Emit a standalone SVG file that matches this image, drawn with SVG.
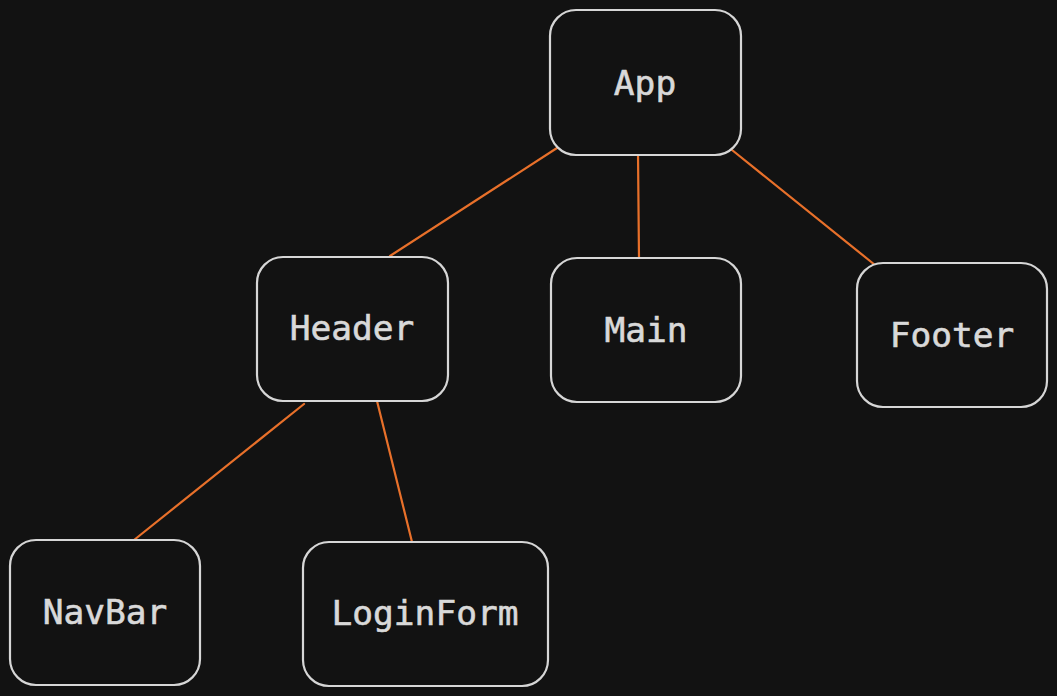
<svg xmlns="http://www.w3.org/2000/svg" width="1057" height="696" viewBox="0 0 1057 696">
<style>
.box{fill:#121212;stroke:#d6d6d6;stroke-width:2.2}
.lbl{font-family:"DejaVu Sans Mono","Liberation Mono",monospace;font-size:34.5px;fill:#d9d9d9;stroke:#d9d9d9;stroke-width:0.6;text-anchor:middle;dominant-baseline:central}
.edge{stroke:#e8702a;stroke-width:2.2;fill:none;stroke-linecap:round}
</style>
<rect width="1057" height="696" fill="#121212"/>
<g id="connectors">
<path class="edge" d="M557 148 L390 256"/>
<path class="edge" d="M638 153 L639 258"/>
<path class="edge" d="M732 150 L875 265"/>
<path class="edge" d="M304 404 L134 540"/>
<path class="edge" d="M377 401 L412 542"/>
</g>
<g id="app"><rect class="box" x="550" y="10" width="191" height="145" rx="26"/><text class="lbl" x="645" y="83">App</text></g>
<g id="header"><rect class="box" x="257" y="257" width="191" height="144" rx="26"/><text class="lbl" x="352" y="328">Header</text></g>
<g id="main"><rect class="box" x="551" y="258" width="190" height="144" rx="26"/><text class="lbl" x="646" y="330">Main</text></g>
<g id="footer"><rect class="box" x="857" y="263" width="190" height="144" rx="26"/><text class="lbl" x="952" y="335">Footer</text></g>
<g id="navbar"><rect class="box" x="10" y="540" width="190" height="145" rx="26"/><text class="lbl" x="105" y="612">NavBar</text></g>
<g id="loginform"><rect class="box" x="303" y="542" width="245" height="144" rx="26"/><text class="lbl" x="425" y="613">LoginForm</text></g>
</svg>
